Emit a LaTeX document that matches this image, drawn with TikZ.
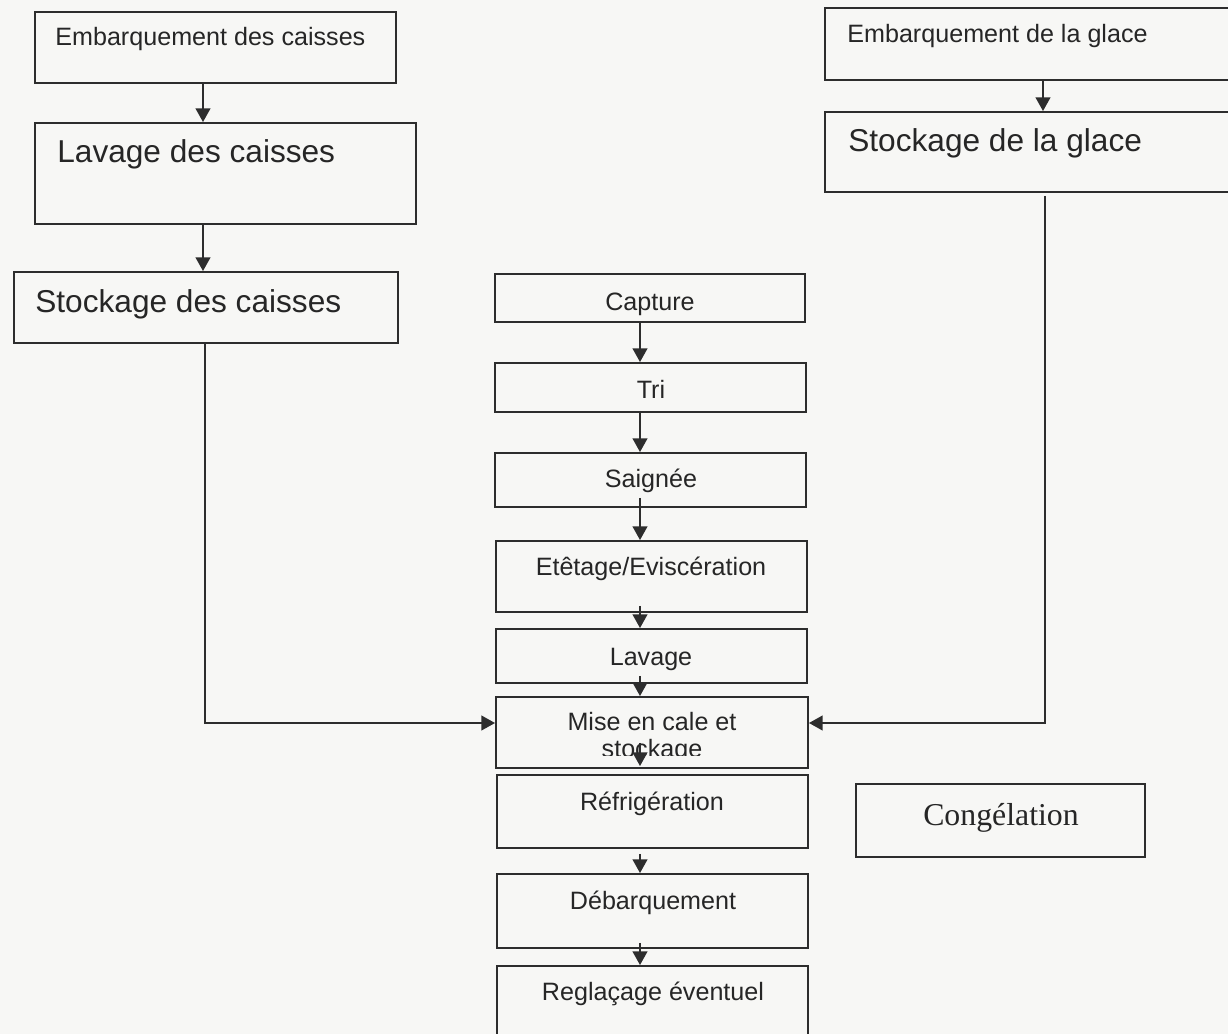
\documentclass[tikz,border=0pt]{standalone}
\usepackage{fontspec}
\setmainfont{Liberation Sans}
\newfontfamily\serifface{Liberation Serif}
\usetikzlibrary{fit,arrows.meta,calc}

\definecolor{paper}{RGB}{247,247,245}
\definecolor{ink}{RGB}{45,45,45}
\definecolor{textink}{RGB}{38,38,38}

\tikzset{
  box/.style={draw=ink, line width=1.1pt, inner sep=0pt, rectangle},
  small/.style={text=textink, inner sep=0pt, font=\fontsize{14.3}{17}\selectfont},
  big/.style={text=textink, inner sep=0pt, font=\fontsize{18}{21}\selectfont},
  serifbig/.style={text=textink, inner sep=0pt, font=\serifface\fontsize{18.1}{21}\selectfont},
  arr/.style={draw=ink, line width=1.1pt, -{Triangle[length=7.8pt,width=8.4pt]}},
}

\begin{document}
\begin{tikzpicture}[x=0.02cm, y=-0.02cm]
\useasboundingbox (0,0) rectangle (1228,1034);
\clip (0,0) rectangle (1228,1034);
\fill[paper] (0,0) rectangle (1228,1034);

% guide columns and rows for the connectors
\coordinate (colL) at (203,0);
\coordinate (colLb) at (205,0);
\coordinate (colR) at (1043,0);
\coordinate (colRb) at (1045,0);
\coordinate (colC) at (640,0);
\coordinate (rowM) at (0,723);

% left column: crates
\node[box, fit={(35,12) (396,83)}] (ec) {};
\node[small, anchor=base west] (ec-t) at (55,46) {Embarquement des caisses};
\node[box, fit={(35,123) (416,224)}] (lc) {};
\node[big, anchor=base west] (lc-t) at (57,163) {Lavage des caisses};
\node[box, fit={(14,272) (398,343)}] (sc) {};
\node[big, anchor=base west] (sc-t) at (35,312) {Stockage des caisses};

% right column: ice
\node[box, fit={(825,8) (1240,80)}] (eg) {};
\node[small, anchor=base west] (eg-t) at (847,43) {Embarquement de la glace};
\node[box, fit={(825,112) (1240,192)}] (sg) {};
\node[big, anchor=base west] (sg-t) at (848,152) {Stockage de la glace};

% central chain
\node[box, fit={(495,274) (805,322)}] (cap) {};
\node[small, anchor=base] (cap-t) at (650,310) {Capture};
\node[box, fit={(495,363) (806,412)}] (tri) {};
\node[small, anchor=base] (tri-t) at (651,398) {Tri};
\node[box, fit={(495,453) (806,507)}] (sai) {};
\node[small, anchor=base] (sai-t) at (651,487) {Saignée};
\node[box, fit={(496,541) (807,612)}] (ete) {};
\node[small, anchor=base] (ete-t) at (651,575) {Etêtage/Eviscération};
\node[box, fit={(496,629) (807,683)}] (lav) {};
\node[small, anchor=base] (lav-t) at (651,665) {Lavage};
\node[box, fit={(496,697) (808,768)}] (mise) {};
\node[small, anchor=base] (mise-t1) at (652,730) {Mise en cale et};
\begin{scope}
  \clip (496,697) rectangle (808,755);
  \node[small, anchor=base] (mise-t2) at (652,757) {stockage};
\end{scope}
\node[box, fit={(497,775) (808,848)}] (refr) {};
\node[small, anchor=base] (refr-t) at (652,810) {Réfrigération};
\node[box, fit={(497,874) (808,948)}] (deb) {};
\node[small, anchor=base] (deb-t) at (653,909) {Débarquement};
\node[box, fit={(497,966) (808,1050)}] (regl) {};
\node[small, anchor=base] (regl-t) at (653,1000) {Reglaçage éventuel};

% freezing
\node[box, fit={(856,784) (1145,857)}] (cong) {};
\node[serifbig, anchor=base] (cong-t) at (1001,825) {Congélation};

% connectors, left column
\draw[arr] (ec.south -| colL) -- (lc.north -| colL);
\draw[arr] (lc.south -| colL) -- (sc.north -| colL);
\draw[arr] (sc.south -| colLb) |- (mise.west |- rowM);

% connectors, right column
\draw[arr] (eg.south -| colR) -- (sg.north -| colR);
\draw[arr] ($(sg.south -| colRb)+(0,3)$) |- (mise.east |- rowM);

% connectors, central chain
\draw[arr] (cap.south -| colC) -- (tri.north -| colC);
\draw[arr] ($(tri.south -| colC)+(0,-2)$) -- (sai.north -| colC);
\draw[arr] ($(sai.south -| colC)+(0,-10)$) -- (ete.north -| colC);
\draw[arr] ($(ete.south -| colC)+(0,-7)$) -- (lav.north -| colC);
\draw[arr] ($(lav.south -| colC)+(0,-8)$) -- (mise.north -| colC);
\draw[arr] ($(mise.south -| colC)+(0,-26)$) -- ($(refr.north -| colC)+(0,-8)$);
\draw[arr] ($(refr.south -| colC)+(0,5)$) -- (deb.north -| colC);
\draw[arr] ($(deb.south -| colC)+(0,-6)$) -- (regl.north -| colC);
\end{tikzpicture}
\end{document}
